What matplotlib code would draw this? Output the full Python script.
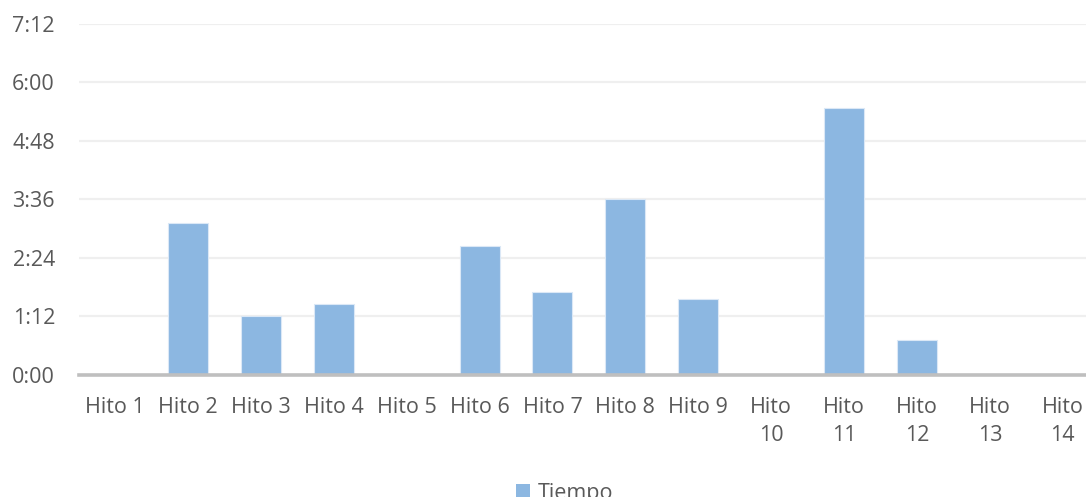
import matplotlib
matplotlib.use("Agg")
import matplotlib.pyplot as plt
from matplotlib.ticker import FuncFormatter, MultipleLocator
from matplotlib.patches import Patch

# Milestones and elapsed time per milestone (seconds)
hitos = ["Hito 1", "Hito 2", "Hito 3", "Hito 4", "Hito 5", "Hito 6", "Hito 7",
         "Hito 8", "Hito 9", "Hito\n10", "Hito\n11", "Hito\n12", "Hito\n13", "Hito\n14"]
tiempo = [0, 187, 72, 87, 0, 158, 102, 217, 93, 0, 329, 43, 0, 0]
serie = "Tiempo"

plt.rcParams["font.family"] = ["Open Sans", "DejaVu Sans"]
text_color = "#595959"
bar_color = "#8cb7e1"

W, H = 1086, 497
fig = plt.figure(figsize=(W / 100, H / 100), dpi=100)
left, right, bottom, top = 78.6, 1099.2, 374.7, 24.0
ax = fig.add_axes([left / W, 1 - bottom / H, (right - left) / W, (bottom - top) / H])

x = list(range(len(hitos)))
ax.bar(x, tiempo, width=0.55, color=bar_color, edgecolor="#dbe8f6", linewidth=0.8, zorder=3)

ax.set_xlim(-0.5, len(hitos) - 0.5)
ax.set_ylim(0, 432)
ax.yaxis.set_major_locator(MultipleLocator(72))
ax.yaxis.set_major_formatter(FuncFormatter(lambda v, p: f"{int(v) // 60}:{int(v) % 60:02d}"))
ax.set_xticks(x)
ax.set_xticklabels(hitos, linespacing=1.45)

ax.grid(axis="y", color="#efefef", linewidth=1.6, zorder=0)
ax.set_axisbelow(True)
for side in ("top", "right", "left"):
    ax.spines[side].set_visible(False)
ax.spines["bottom"].set_color("#bfbfbf")
ax.spines["bottom"].set_linewidth(2.6)
ax.spines["bottom"].set_zorder(4)

ax.tick_params(axis="both", length=0, labelsize=15.5, colors=text_color)
ax.tick_params(axis="y", pad=17)
ax.tick_params(axis="x", pad=16)

fig.legend(handles=[Patch(facecolor=bar_color, edgecolor="none", label=serie)],
           loc="center", bbox_to_anchor=(565 / W, 1 - 493 / H), frameon=False,
           fontsize=15.5, labelcolor=text_color, handlelength=0.65, handleheight=0.65,
           handletextpad=0.35, borderpad=0)

fig.savefig("out.png", dpi=100)
